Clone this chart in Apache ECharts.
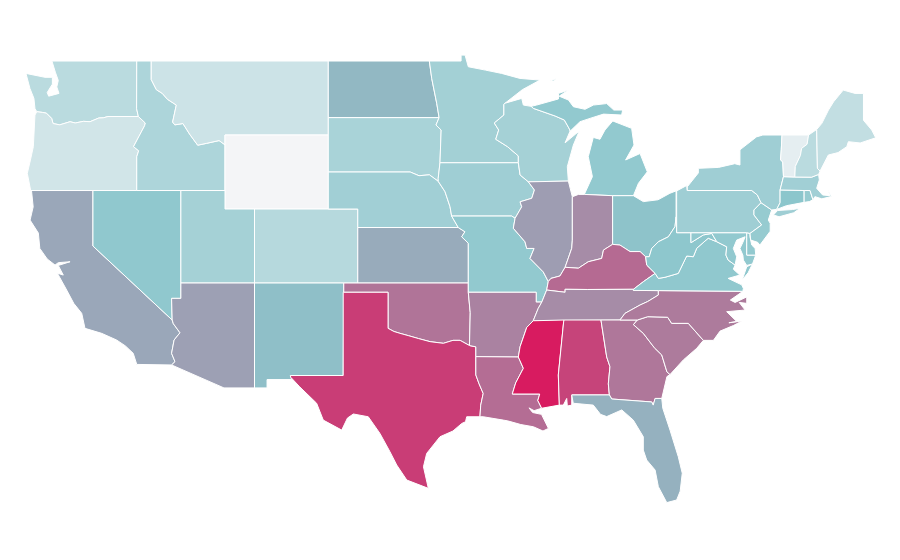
<!DOCTYPE html>
<html><head><meta charset="utf-8">
<style>html,body{margin:0;background:#fff}#c{width:900px;height:560px}</style>
<script src="https://cdn.jsdelivr.net/npm/echarts@6/dist/echarts.min.js"></script>
</head><body><div id="c"></div>
<script>
const stateNames = ["Washington","Oregon","California","Nevada","Idaho","Montana","Wyoming","Utah","Arizona","Colorado","New Mexico","North Dakota","South Dakota","Nebraska","Kansas","Oklahoma","Texas","Minnesota","Iowa","Missouri","Arkansas","Louisiana","Wisconsin","Illinois","Michigan","Indiana","Ohio","Kentucky","Tennessee","Mississippi","Alabama","Georgia","Florida","South Carolina","North Carolina","Virginia","West Virginia","Maryland","Delaware","Pennsylvania","New Jersey","New York","Connecticut","Rhode Island","Massachusetts","Vermont","New Hampshire","Maine"];
const stateValues = [28,17,59,48,34,19,0,38,61,30,52,54,36,40,58,74,90,39,41,47,70,76,38,62,47,67,51,77,67,100,88,73,56,72,72,48,49,47,47,41,45,41,50,45,40,7,28,24];
const colorStops = ["#f4f5f7","#8cc6cc","#d81b60"];

const rev = a => a.slice().reverse();
const ring = (...parts) => parts.flat();

// shared borders [lon, lat]
const ID_MT = [[-116.05,49],[-116.05,48],[-115.7,47.45],[-115.3,47.25],[-114.95,46.93],[-114.35,46.62],[-114.6,45.7],[-114.45,45.55],[-113.9,45.62],[-113.45,45.05],[-112.9,44.45],[-112.3,44.55],[-111.45,44.7],[-111.05,44.47]];
const ID_OR = [[-117.03,42],[-117.03,43.83],[-116.9,44.15],[-117.25,44.37],[-116.9,44.9],[-116.5,45.5],[-116.45,45.65],[-116.92,46]];
const ID_WA = [[-116.92,46],[-117.04,46.42],[-117.03,49]];
const OR_WA = [[-116.92,46],[-118.98,46],[-119.3,45.93],[-119.6,45.92],[-120.2,45.72],[-120.65,45.74],[-121.2,45.65],[-121.55,45.72],[-122.25,45.55],[-122.7,45.62],[-122.8,45.9],[-123.15,46.18],[-123.4,46.22],[-123.81,46.26]];
const CA_COLO = [[-114.63,35],[-114.55,34.8],[-114.1,34.31],[-114.5,33.92],[-114.67,33.2],[-114.44,32.75],[-114.67,32.57]];
const RED = [[-100,34.55],[-99.6,34.38],[-99.19,34.28],[-98.6,34.15],[-97.95,34],[-97.15,33.83],[-96.25,33.74],[-95.6,33.9],[-95.12,33.9],[-94.48,33.62]];
const SABINE = [[-94.05,32.03],[-93.83,31.55],[-93.55,31.03],[-93.72,30.4],[-93.77,29.77]];
const MO_R_KS = [[-95.24,40],[-94.79,39.77],[-95.01,39.5],[-94.56,39.15]];
const MO_R_NE = [[-96.6,42.5],[-96.14,41.94],[-95.8,41.13],[-95.69,40.62]];
const NE_SD = [[-96.6,42.5],[-97.2,42.85],[-97.9,42.8],[-98.5,43]];
const SD_MN = [[-96.54,45.94],[-96.75,45.54],[-96.4,45.27],[-96.48,43.5]];
const ND_MN = [[-97.2,49],[-97.04,48.06],[-96.7,46.71],[-96.54,45.94]];
const IA_SD = [[-96.48,43.5],[-96.6,42.66],[-96.6,42.5]];
const MN_WI = [[-92.07,46.72],[-92.15,46.66],[-92.15,46.08],[-92.8,45.65],[-92.5,45.27],[-92.7,44.77],[-91.9,44.37],[-91.17,43.87],[-91.17,43.5]];
const IA_WI = [[-91.17,43.5],[-91.05,42.84],[-90.49,42.47]];
const IA_IL = [[-90.49,42.47],[-90.08,42.03],[-90.26,41.58],[-91.05,41.39],[-90.94,41.12],[-91.39,40.5]];
const IL_MO = [[-91.39,40.5],[-91.51,39.96],[-90.72,39.23],[-90.6,38.87],[-90.1,38.87],[-90.38,38.33],[-89.48,37.6],[-89.14,37.08]];
const OHIO_IL = [[-88,37.85],[-88.35,37.38],[-88.96,37.25],[-89.14,37.08]];
const OHIO_IN = [[-84.78,39.09],[-85.4,38.78],[-85.52,38.33],[-86.43,38.15],[-87.1,37.8],[-88,37.85]];
const OHIO_OH = [[-82.54,38.42],[-82.92,38.7],[-83.6,38.7],[-84.28,39.05],[-84.78,39.09]];
const OHIO_WV = [[-80.48,40.58],[-80.55,40.05],[-81,39.5],[-81.68,39.23],[-82.13,38.87],[-82.3,38.42],[-82.54,38.42]];
const WABASH = [[-87.51,39.32],[-87.55,38.88],[-88,37.85]];
const MISS_TN = [[-89.25,36.62],[-89.58,35.97],[-89.82,35.63],[-90.16,34.96]];
const MISS_AR1 = [[-89.58,35.97],[-89.82,35.63],[-90.16,34.96]];
const MISS_MS = [[-90.16,34.96],[-90.6,34.6],[-91.05,33.56],[-91.17,33]];
const MISS_LA = [[-91.17,33],[-90.83,32.39],[-91.35,31.6],[-91.58,31]];
const PEARL = [[-89.72,31],[-89.85,30.65],[-89.59,30.23]];
const AL_MS = [[-88.07,35],[-88.1,34.9],[-88.46,32.03],[-88.39,30.4]];
const AL_GA = [[-85.57,35],[-85.18,33],[-84.96,32.48],[-85.07,31.55],[-85,30.95]];
const GA_FL = [[-85,30.95],[-84.84,30.73],[-82.13,30.57],[-82.03,30.4],[-81.9,30.76],[-81.45,30.76]];
const SAVANNAH = [[-83.1,35],[-83.37,34.75],[-82.7,34.28],[-81.95,33.5],[-81.45,33.11],[-81.1,32.2],[-80.89,32.05]];
const NC_SC = [[-83.1,35],[-82.4,35.18],[-81.05,35.15],[-80.78,34.82],[-79.65,34.82],[-78.63,33.9]];
const NC_TN = [[-81.68,36.59],[-81.68,36.35],[-82.4,36],[-82.92,35.81],[-83.94,35.36],[-84.28,35]];
const KY_VA = [[-81.9,37.52],[-82.7,37.07],[-83.37,36.66]];
const KY_TN = [[-83.37,36.66],[-86.5,36.65],[-88,36.66],[-88,36.5],[-89.25,36.62]];
const BIGSANDY = [[-82.54,38.42],[-82.47,37.97],[-81.9,37.52]];
const VA_WV = [[-77.72,39.23],[-78.3,39.42],[-79.08,38.88],[-79.31,38.42],[-79.76,38.46],[-80.33,37.52],[-81.23,37.31],[-81.68,37.25],[-81.9,37.52]];
const MD_WV = [[-79.47,39.72],[-79.47,39.18],[-78.63,39.6],[-78.06,39.68],[-77.72,39.23]];
const POTOMAC = [[-76.48,37.97],[-76.95,38.24],[-77.1,38.51],[-77.05,38.96],[-77.72,39.23]];
const DE_ARC = [[-75.69,39.72],[-75.47,39.68]];
const DE_NJ = [[-75.47,39.68],[-75.47,39.5]];
const DELAWARE_R = [[-75.35,42],[-74.97,41.76],[-74.72,41.34]];
const PA_NJ = [[-74.72,41.34],[-75.2,40.95],[-75.2,40.68],[-74.68,40.14],[-75.47,39.68]];
const VT_NY = [[-73.3,45],[-73.35,44.2],[-73.4,43.65],[-73.25,43.55],[-73.2,42.75]];
const MA_NY = [[-73.2,42.75],[-73.43,42.03]];
const CT_NY = [[-73.43,42.03],[-73.43,41.34],[-73.66,40.98]];
const CT_RI = [[-71.8,42],[-71.8,41.36]];
const VT_NH = [[-71.5,45],[-71.6,44.5],[-71.97,44.28],[-72.05,43.9],[-72.4,43.3],[-72.43,42.73]];
const NH_MA = [[-72.43,42.73],[-71.3,42.72],[-70.82,42.87]];
const NH_ME = [[-70.95,45.3],[-70.9,43.2],[-70.72,43.05]];
const MI_WI = [[-87.67,45.2],[-87.67,45.27],[-88.05,45.81],[-88.68,46.03],[-90.15,46.44],[-90.3,46.55]];
const MI_OH = [[-84.78,41.72],[-83.37,41.72]];
const MI_IN = [[-86.7,41.79],[-84.78,41.72]];
const IA_MO = [[-91.39,40.5],[-91.62,40.62],[-95.69,40.62]];

const polys = {
 "Washington":[ring([[-122.78,49]],rev(ID_WA),OR_WA,[[-123.93,46.44],[-124.0,46.98],[-124.27,47.52],[-124.54,48.33],[-123.25,48.12],[-122.75,48.12],[-122.75,47.75],[-123.1,47.3],[-123,47.1],[-122.3,47.25],[-122.45,47.6],[-122.35,47.95],[-122.55,48.4]])],
 "Oregon":[ring(OR_WA,[[-123.93,46.08],[-124.04,44.37],[-124.25,43.6],[-124.45,42.93],[-124.22,42]],ID_OR)],
 "California":[ring([[-124.22,42],[-120,42],[-120,39]],CA_COLO,[[-117.03,32.6],[-117.27,33.2],[-117.8,33.6],[-118.4,33.92],[-119.41,34.28],[-120.54,34.55],[-120.76,35.36],[-121.3,35.9],[-121.78,36.62],[-122.41,37.53],[-122.01,37.43],[-122.35,37.95],[-121.55,38.15],[-122.35,38.1],[-122.57,37.97],[-123.1,38.3],[-123.6,38.87],[-123.7,39.7],[-124.26,40.4],[-124.05,41.12],[-124.16,41.97]])],
 "Nevada":[[[-120,42],[-114.04,42],[-114.04,36.17],[-114.67,36.17],[-114.63,35],[-120,39]]],
 "Idaho":[ring(rev(ID_WA),rev(ID_OR),[[-111.05,42]],rev(ID_MT))],
 "Montana":[ring(ID_MT,[[-111.05,45],[-104.05,45],[-104.05,49]])],
 "Wyoming":[[[-111.05,45],[-104.05,45],[-104.05,41],[-111.05,41]]],
 "Utah":[[[-114.04,42],[-111.05,42],[-111.05,41],[-109.05,41],[-109.05,37],[-114.04,37]]],
 "Arizona":[ring([[-114.04,37],[-109.05,37],[-109.05,31.33],[-111.12,31.33]],rev(CA_COLO),[[-114.67,36.17],[-114.04,36.17]])],
 "Colorado":[[[-109.05,41],[-102.05,41],[-102.05,37],[-109.05,37]]],
 "New Mexico":[[[-109.05,37],[-103,37],[-103.04,32],[-106.62,32],[-106.53,31.78],[-108.2,31.78],[-108.2,31.33],[-109.05,31.33]]],
 "North Dakota":[ring([[-104.05,49]],ND_MN,[[-104.05,45.94]])],
 "South Dakota":[ring([[-104.05,45.94]],SD_MN,IA_SD,NE_SD,[[-104.05,43]])],
 "Nebraska":[ring([[-104.05,43]],rev(NE_SD),MO_R_NE,[[-95.24,40],[-102.05,40],[-102.05,41],[-104.05,41]])],
 "Kansas":[ring([[-102.05,40]],MO_R_KS,[[-94.56,37],[-102.05,37]])],
 "Oklahoma":[ring([[-103,37],[-94.56,37],[-94.56,36.5],[-94.43,35.4]],rev(RED),[[-100,36.5],[-103,36.5]])],
 "Texas":[ring([[-103.04,36.5],[-100,36.5]],RED,[[-94.05,33.55],[-94.05,33.02]],SABINE,[[-94.67,29.77],[-94.75,29.5],[-95,29.41],[-95.6,29],[-96.48,28.69],[-97.38,27.79],[-97.6,27.07],[-97.27,25.9],[-98.73,26.35],[-99.41,27.16],[-99.87,27.88],[-100.55,28.87],[-101.34,29.77],[-102.35,29.92],[-102.75,29.7],[-103.14,29.05],[-104.39,29.59],[-104.84,30.5],[-106,31.4],[-106.6,31.91],[-106.62,32],[-103.04,32]])],
 "Minnesota":[ring([[-97.2,49],[-95.05,49],[-95.05,49.32],[-94.78,49.32],[-94.56,48.69],[-93.4,48.51],[-92.3,48.33],[-91.06,48.06],[-89.7,47.97],[-90.9,47.45]],MN_WI,rev(SD_MN),rev(ND_MN))],
 "Iowa":[ring([[-96.48,43.5]],IA_WI,IA_IL,IA_MO,rev(MO_R_NE),rev(IA_SD))],
 "Missouri":[ring([[-95.69,40.62]],rev(IA_MO),IL_MO,MISS_TN.slice(0,2),[[-89.96,35.97],[-89.96,36.5],[-94.56,36.5],[-94.56,37]],rev(MO_R_KS))],
 "Arkansas":[ring([[-94.56,36.5],[-89.96,36.5],[-89.96,35.97]],MISS_AR1,MISS_MS,[[-94.05,33.02],[-94.05,33.55],[-94.48,33.62],[-94.43,35.4]])],
 "Louisiana":[ring([[-94.05,33.02]],MISS_LA,PEARL,[[-90.1,30.1],[-90.45,30.25],[-90.2,30],[-89.6,29.9],[-89.13,29.14],[-89.5,29.0],[-90.15,29.23],[-91,29.35],[-91.9,29.55],[-92.19,29.59],[-93.55,29.77]],rev(SABINE))],
 "Wisconsin":[ring(MN_WI,IA_WI,[[-87.78,42.51],[-87.85,43.29],[-87.44,44.46],[-87.04,45.22],[-88,44.58]],MI_WI,[[-90.83,46.62],[-90.94,46.98]])],
 "Illinois":[ring(IA_IL,IL_MO,rev(OHIO_IL),rev(WABASH),[[-87.51,41.66],[-87.78,42.51]])],
 "Michigan":[ring(MI_IN,MI_OH,[[-83.03,42.39],[-82.43,43.01],[-82.92,44],[-83.9,43.65],[-83.33,44.46],[-83.49,45.36],[-84.77,45.76],[-85.3,45.27],[-85.64,44.77],[-86.09,44.87],[-86.43,43.83],[-86.15,42.75]]),
   ring(MI_WI,[[-89.93,46.62],[-88.45,46.95],[-88.45,47.25],[-87.78,47.43],[-88.4,47.1],[-87.77,46.89],[-87.44,46.53],[-86.65,46.39],[-86.08,46.62],[-85.18,46.7],[-84.7,46.35],[-84.1,46.35],[-84.17,46.08],[-85.4,46.13],[-86.31,45.9],[-86.99,45.72]]),
   [[-89,47.92],[-88.6,48.06],[-88.8,47.92]]],
 "Indiana":[ring([[-87.51,41.66],[-87.1,41.79]],MI_IN,OHIO_IN,rev(WABASH))],
 "Ohio":[ring(MI_OH,[[-82.7,41.4],[-81.7,41.5],[-80.9,41.85],[-80.48,41.98]],OHIO_WV,OHIO_OH)],
 "Kentucky":[ring(rev(OHIO_IL),rev(OHIO_IN),rev(OHIO_OH),BIGSANDY,KY_VA,KY_TN)],
 "Tennessee":[ring(MISS_TN,[[-84.28,35]],rev(NC_TN),[[-81.68,36.59],[-83.37,36.6],[-83.37,36.66]],KY_TN.slice(1))],
 "Mississippi":[ring(MISS_MS,MISS_LA,PEARL,rev(AL_MS))],
 "Alabama":[ring(AL_MS,[[-88.12,30.4],[-87.89,30.76],[-87.85,30.35],[-87.55,30.4],[-87.55,30.95]],rev(AL_GA))],
 "Georgia":[ring(AL_GA,GA_FL,[[-81.1,31.94]],rev(SAVANNAH))],
 "Florida":[ring([[-87.55,30.95]],GA_FL,[[-81.38,30.23],[-80.89,29.05],[-80.33,27.61],[-80.06,26.72],[-80.2,25.75],[-80.44,25.27],[-81.11,25.13],[-81.68,25.99],[-81.9,26.89],[-82.47,27.43],[-82.7,27.97],[-82.7,28.69],[-83.38,29.59],[-84.16,30.14],[-85.18,29.78],[-85.6,29.9],[-86.09,30.4],[-87.45,30.5]])],
 "South Carolina":[ring(NC_SC,[[-79.08,33.47],[-79.99,32.84],[-80.89,32.05]],rev(SAVANNAH))],
 "North Carolina":[ring([[-84.28,35]],rev(NC_TN),[[-75.95,36.55],[-76.8,36.08],[-76.48,35.95],[-75.69,36.25],[-75.69,35.9],[-76.2,35.95],[-75.8,35.54],[-77.05,35.45],[-76.37,34.92],[-76.9,34.85],[-76.0,34.95],[-76.6,34.7],[-77.5,34.4],[-77.95,33.9]],rev(NC_SC))],
 "Virginia":[ring([[-83.37,36.66],[-83.37,36.6],[-81.68,36.59],[-75.95,36.55],[-75.92,36.71],[-76.03,36.9],[-76.95,37.25],[-76.16,37.43],[-76.6,37.75]],POTOMAC,VA_WV,KY_VA.slice(1)),
   [[-75.3,38.03],[-75.69,37.88],[-76,37.16],[-75.6,37.55]]],
 "West Virginia":[ring(OHIO_WV,BIGSANDY,rev(VA_WV),rev(MD_WV),[[-80.44,39.72]])],
 "Maryland":[ring(MD_WV,rev(POTOMAC),[[-76.37,38.42],[-76.6,38.87],[-76.37,39.32],[-75.8,39.5],[-75.95,39.2],[-76.15,38.87],[-75.95,38.5],[-75.92,38.24],[-75.69,37.95],[-75.3,38.03],[-75.08,38.51],[-75.69,38.51],[-75.69,39.72]])],
 "Delaware":[ring(DE_ARC,DE_NJ,[[-75.35,39.05],[-75.12,38.87],[-75.08,38.51],[-75.69,38.51]])],
 "Pennsylvania":[ring([[-80.44,41.98],[-79.76,42.27],[-79.72,42]],DELAWARE_R,PA_NJ,rev(DE_ARC),[[-80.44,39.72]])],
 "New Jersey":[ring([[-74,40.95]],PA_NJ,[[-75.42,39.32],[-74.95,39.2],[-74.8,39.05],[-74.1,39.8],[-74.1,40.23],[-74.23,40.4]])],
 "New York":[ring([[-79.72,42.2],[-78.97,42.95],[-78.97,43.2],[-77.6,43.25],[-76.5,43.45],[-76.15,43.38],[-76.15,44.2],[-75.03,44.9],[-74.6,45]],VT_NY,MA_NY,CT_NY,[[-74,40.95]],rev(DELAWARE_R),[[-79.72,42]]),
   [[-73.88,40.68],[-73.6,40.92],[-72.6,40.97],[-72.08,41.04],[-72.5,40.8],[-73.5,40.58]]],
 "Connecticut":[ring(rev(CT_NY),CT_RI,[[-73,41.18]])],
 "Rhode Island":[ring(CT_RI,[[-71.45,41.4],[-71.2,41.5],[-71.4,42]])],
 "Massachusetts":[ring(MA_NY.slice(0,1),NH_MA,[[-70.77,42.57],[-70.95,42.12],[-70.55,41.76],[-70.05,41.72],[-70.2,42.05],[-69.95,41.68],[-70.6,41.55],[-71.07,41.67],[-71.2,41.5],[-71.4,42],[-71.8,42],[-73.43,42.03]])],
 "Vermont":[ring(VT_NY,rev(VT_NH))],
 "New Hampshire":[ring(VT_NH,NH_MA,rev(NH_ME))],
 "Maine":[ring(NH_ME,[[-70.16,43.92],[-69.5,44.05],[-68.91,44.37],[-68.8,44.64],[-68,44.57],[-66.95,44.85],[-67.22,45.27],[-67.78,45.8],[-67.78,47.25],[-68.35,47.25],[-69.15,47.43],[-69.8,46.8],[-70.15,46.35],[-70.6,45.63]])]
};

const closeRing = r => (r[0][0]===r[r.length-1][0]&&r[0][1]===r[r.length-1][1]) ? r : r.concat([r[0]]);
const usa = {type:"FeatureCollection",features:stateNames.map(n=>({type:"Feature",properties:{name:n},
  geometry:{type:"MultiPolygon",coordinates:polys[n].map(r=>[closeRing(r)])}}))};
echarts.registerMap("USA",usa);

const chart = echarts.init(document.getElementById("c"),null,{renderer:"canvas"});
chart.setOption({
  animation:false,
  backgroundColor:"#fff",
  tooltip:{show:false},
  visualMap:{show:false,min:0,max:100,inRange:{color:colorStops}},
  series:[{
    type:"map",map:"USA",silent:true,roam:false,
    aspectScale:14.755/18.5,
    boundingCoords:[[-124.73,49.38],[-66.95,25.13]],
    left:23.15,top:54,width:852.55,height:448.6,
    label:{show:false},
    itemStyle:{borderColor:"#fff",borderWidth:1,areaColor:"#f4f5f7"},
    data:stateNames.map((n,i)=>({name:n,value:stateValues[i]}))
  }]
});
</script></body></html>
